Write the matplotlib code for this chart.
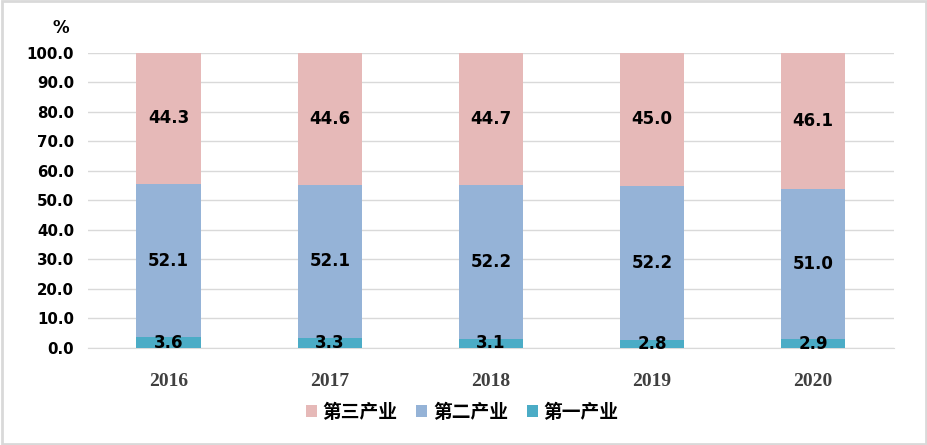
import matplotlib.pyplot as plt
import numpy as np
from matplotlib.patches import Rectangle

years = ['2016', '2017', '2018', '2019', '2020']
primary = [3.6, 3.3, 3.1, 2.8, 2.9]
secondary = [52.1, 52.1, 52.2, 52.2, 51.0]
tertiary = [44.3, 44.6, 44.7, 45.0, 46.1]
series_names = ['第三产业', '第二产业', '第一产业']

cjk = ['Noto Sans CJK SC', 'DejaVu Sans']

fig = plt.figure(figsize=(9.28, 4.45), dpi=100)
ax = fig.add_axes([0.095, 0.218, 0.868, 0.663])

x = np.arange(len(years))
w = 0.4
b1 = ax.bar(x, primary, w, color='#4BACC6', label=series_names[2], zorder=3)
b2 = ax.bar(x, secondary, w, bottom=primary, color='#95B3D7',
            label=series_names[1], zorder=3)
bottom3 = np.array(primary) + np.array(secondary)
b3 = ax.bar(x, tertiary, w, bottom=bottom3, color='#E6B9B8',
            label=series_names[0], zorder=3)

for bars in (b1, b2, b3):
    ax.bar_label(bars, fmt='%.1f', label_type='center', fontsize=12,
                 fontweight='bold', color='black', zorder=4)

ax.set_xlim(-0.5, len(years) - 0.5)
ax.set_ylim(0, 100)
ax.set_yticks(np.arange(0, 101, 10))
ax.set_yticklabels([f'{v:.1f}' for v in np.arange(0, 101, 10)],
                   fontsize=10.8, fontweight='bold')
ax.set_xticks(x)
ax.set_xticklabels(years, family='Liberation Serif', fontsize=14,
                   fontweight='bold', color='#404040')
ax.tick_params(axis='both', length=0)
ax.tick_params(axis='x', pad=18)
ax.tick_params(axis='y', pad=10)
ax.grid(axis='y', color='#D9D9D9', linewidth=1, zorder=0)
for s in ('top', 'right', 'left'):
    ax.spines[s].set_visible(False)
ax.spines['bottom'].set_color('#D9D9D9')

fig.text(0.057, 0.938, '%', fontsize=12, fontweight='bold', ha='left', va='center')

handles = [b3, b2, b1]
leg = fig.legend(handles, series_names, loc='center', bbox_to_anchor=(0.498, 0.073),
                 ncol=3, frameon=False, handlelength=0.6, handleheight=0.6,
                 handletextpad=0.3, columnspacing=1.0,
                 prop={'family': cjk, 'size': 13.5, 'weight': 'bold'})

fig.patches.append(Rectangle((0.002, 0.003), 0.996, 0.994, transform=fig.transFigure,
                             fill=False, edgecolor='#D9D9D9', linewidth=2))

fig.savefig('out.png', dpi=100)
